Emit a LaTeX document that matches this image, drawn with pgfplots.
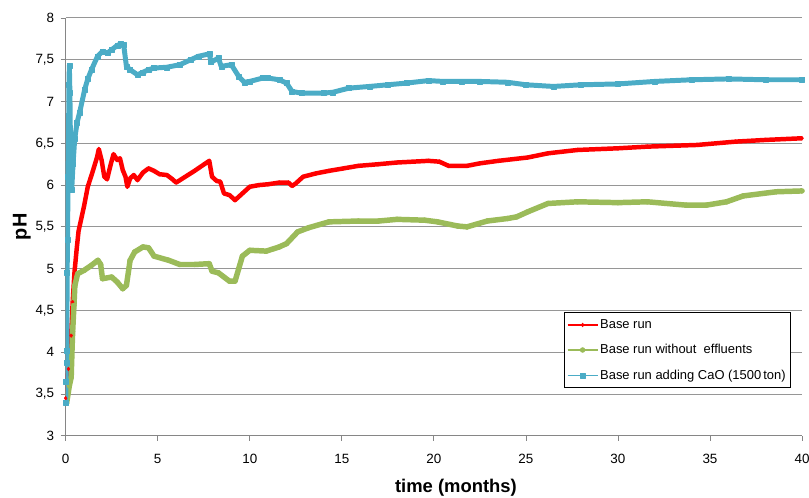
\documentclass[border=0pt]{standalone}
\usepackage{pgfplots}
\pgfplotsset{compat=1.18}
\usepackage{fontspec}
\setmainfont{Liberation Sans}
\definecolor{cred}{RGB}{255,0,0}
\definecolor{cgreen}{RGB}{155,187,89}
\definecolor{ccyan}{RGB}{75,172,198}
\definecolor{gridc}{RGB}{150,150,150}
\definecolor{axc}{RGB}{134,134,134}
\begin{document}
\begin{tikzpicture}
\path[use as bounding box] (-66pt,-62pt) rectangle (747pt,438pt);
\begin{axis}[
  scale only axis, width=740pt, height=420pt,
  xmin=0, xmax=40, ymin=3, ymax=8,
  xtick={0,5,...,40}, ytick={3,3.5,...,8},
  axis x line*=bottom, axis y line*=left,
  axis line style={-, draw=axc, line width=0.9pt},
  tick align=outside, major tick length=5pt,
  tick style={draw=axc, line width=0.8pt},
  ymajorgrids, grid style={draw=gridc, line width=0.9pt},
  /pgf/number format/assume math mode=true,
  /pgf/number format/use comma,
  /pgf/number format/fixed,
  ticklabel style={font=\fontsize{13.5}{15}\selectfont},
  xticklabel style={yshift=-10pt},
  yticklabel style={xshift=-3pt},
  xlabel={time (months)}, ylabel={pH},
  xlabel style={font=\fontsize{18.5}{20}\selectfont\bfseries, at={(axis description cs:0.53,-0.124)}, anchor=center},
  ylabel style={font=\fontsize{20}{22}\selectfont\bfseries, at={(axis description cs:-0.0595,0.5)}, anchor=center},
  legend style={at={(rel axis cs:1,0)}, anchor=south east, xshift=-11pt, yshift=48pt,
    draw=black, line width=0.8pt, fill=white, font=\fontsize{13}{15}\selectfont,
    cells={anchor=west}, row sep=10.5pt, inner xsep=3pt, inner ysep=5pt},
  legend image code/.code={\draw[line width=1.3pt, mark repeat=2, mark phase=2] plot coordinates {(0pt,0pt) (15pt,0pt) (30pt,0pt)};},
  every axis plot/.append style={line join=round},
]
\addplot[color=cred, line width=4.5pt, mark=diamond*, mark size=2pt, mark options={solid, line width=0.4pt}] coordinates {
(0,3.45)(0.15,3.8)(0.3,4.2)(0.38,4.6)(0.48,4.96)(0.6,5.24)(0.7,5.45)(0.8,5.55)(1.0,5.75)(1.2,5.98)(1.45,6.15)(1.7,6.33)(1.8,6.43)(1.95,6.3)(2.1,6.1)(2.25,6.07)(2.45,6.25)(2.6,6.37)(2.8,6.3)(2.95,6.32)(3.1,6.18)(3.25,6.1)(3.35,5.98)(3.5,6.08)(3.7,6.12)(3.9,6.06)(4.2,6.15)(4.5,6.2)(4.8,6.17)(5.1,6.13)(5.5,6.12)(5.8,6.07)(6.0,6.03)(7.0,6.17)(7.8,6.29)(7.95,6.1)(8.2,6.05)(8.4,6.04)(8.6,5.9)(8.9,5.88)(9.2,5.82)(9.6,5.9)(10.0,5.98)(10.5,6.0)(11.0,6.01)(11.6,6.03)(12.1,6.03)(12.3,5.99)(12.5,6.02)(12.9,6.1)(13.6,6.14)(14.3,6.17)(15.1,6.2)(15.9,6.23)(17,6.25)(18,6.27)(19.7,6.29)(20.3,6.28)(20.8,6.23)(21.8,6.23)(22.5,6.26)(23.5,6.29)(25.1,6.33)(26.2,6.38)(27.8,6.42)(30,6.44)(31.6,6.46)(34.3,6.48)(36.4,6.52)(38,6.54)(40,6.56)
};
\addlegendentry{Base run}
\addplot[color=cgreen, line width=5.5pt, mark=*, mark size=2.5pt, mark options={solid, line width=0.4pt}] coordinates {
(0.05,3.39)(0.2,3.6)(0.3,3.7)(0.33,3.93)(0.38,4.25)(0.45,4.56)(0.5,4.8)(0.65,4.94)(1.0,4.98)(1.4,5.04)(1.75,5.1)(1.9,5.05)(2.0,4.88)(2.5,4.9)(2.8,4.84)(3.1,4.76)(3.3,4.8)(3.5,5.1)(3.75,5.2)(4.2,5.26)(4.5,5.25)(4.8,5.15)(5.6,5.1)(6.2,5.05)(7,5.05)(7.8,5.06)(7.95,4.97)(8.3,4.95)(8.9,4.85)(9.2,4.85)(9.4,5.0)(9.6,5.15)(10,5.22)(10.9,5.21)(11.6,5.26)(12.0,5.3)(12.6,5.44)(13.2,5.49)(14.3,5.56)(15.9,5.57)(17,5.57)(18,5.59)(19.5,5.58)(20.2,5.56)(21.3,5.51)(21.8,5.5)(22.9,5.57)(24,5.6)(24.5,5.62)(25.1,5.68)(26.2,5.78)(27.8,5.8)(30,5.79)(31.6,5.8)(33.7,5.76)(34.8,5.76)(35.9,5.8)(36.8,5.87)(38.6,5.92)(40,5.93)
};
\addlegendentry{Base run without\ \ effluents}
\addplot[color=ccyan, line width=5pt, mark=square*, mark size=2.5pt, mark options={solid, line width=0.4pt}] coordinates {
(0,3.4)(0.02,3.65)(0.04,3.88)(0.06,4.02)(0.08,4.95)(0.1,5.35)(0.13,6.1)(0.16,6.7)(0.18,7.2)(0.2,7.43)(0.23,7.1)(0.26,6.5)(0.3,6.0)(0.33,5.95)(0.4,6.25)(0.49,6.55)(0.62,6.75)(0.76,6.87)(1.03,7.14)(1.2,7.27)(1.4,7.38)(1.73,7.54)(2.0,7.6)(2.27,7.58)(2.5,7.62)(2.8,7.67)(3.0,7.69)(3.15,7.68)(3.3,7.42)(3.5,7.38)(3.9,7.32)(4.2,7.35)(4.5,7.38)(4.8,7.4)(5.5,7.41)(6.2,7.44)(6.8,7.5)(7.2,7.54)(7.8,7.57)(7.9,7.47)(8.3,7.52)(8.45,7.42)(9.0,7.44)(9.4,7.3)(9.7,7.23)(10.0,7.24)(10.7,7.28)(11.0,7.28)(11.6,7.26)(12.0,7.22)(12.3,7.12)(12.8,7.1)(14,7.1)(14.5,7.11)(15.4,7.16)(16.5,7.18)(17.5,7.2)(18.5,7.22)(19.7,7.25)(20.5,7.24)(21.5,7.24)(22.5,7.24)(24,7.23)(25,7.2)(26.5,7.18)(28,7.2)(30,7.21)(32,7.24)(34,7.26)(36,7.27)(38,7.26)(40,7.26)
};
\addlegendentry{Base run adding CaO (1500\,ton)}
\end{axis}
\end{tikzpicture}
\end{document}
